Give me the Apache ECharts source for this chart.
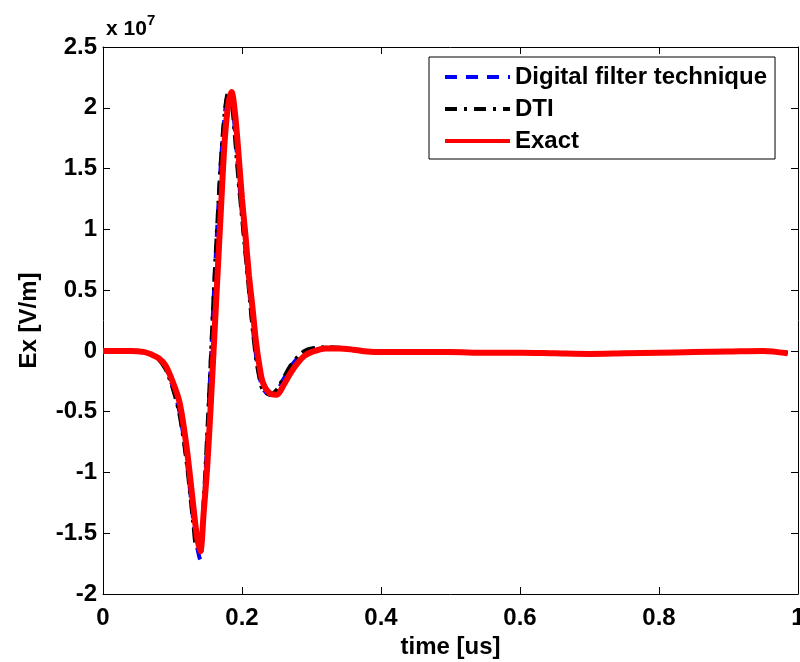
<!DOCTYPE html>
<html>
<head>
<meta charset="utf-8">
<script src="https://cdn.jsdelivr.net/npm/echarts@6/dist/echarts.min.js"></script>
<style>html,body{margin:0;padding:0;background:#fff;}#c{width:800px;height:662px;}</style>
</head>
<body>
<div id="c"></div>
<script>
// time axis in microseconds
const timeUs = [0, 0.02, 0.04, 0.06, 0.07, 0.08, 0.09, 0.1, 0.11, 0.12, 0.13, 0.135, 0.14, 0.145, 0.15, 0.155, 0.16, 0.165, 0.17, 0.175, 0.18, 0.185, 0.19, 0.195, 0.2, 0.205, 0.21, 0.215, 0.22, 0.225, 0.23, 0.24, 0.25, 0.26, 0.27, 0.28, 0.29, 0.3, 0.32, 0.34, 0.36, 0.38, 0.4, 0.45, 0.5, 0.55, 0.6, 0.65, 0.7, 0.75, 0.8, 0.85, 0.9, 0.95, 0.985];
// Ex in units of 1e7 V/m
const exactValues = [0, 0, 0, -0.01, -0.03, -0.06, -0.12, -0.25, -0.42, -0.78, -1.28, -1.52, -1.65, -1.32, -0.95, -0.45, 0.1, 0.65, 1.2, 1.72, 2.02, 2.13, 1.95, 1.62, 1.25, 0.95, 0.62, 0.36, 0.08, -0.12, -0.26, -0.35, -0.36, -0.28, -0.18, -0.1, -0.04, -0.01, 0.02, 0.02, 0.01, -0.005, -0.01, -0.01, -0.01, -0.015, -0.015, -0.02, -0.025, -0.02, -0.015, -0.01, -0.005, 0, -0.02];
const dtiValues = [0, 0, 0, -0.01, -0.03, -0.07, -0.15, -0.3, -0.52, -0.9, -1.42, -1.62, -1.62, -1.22, -0.68, -0.08, 0.55, 1.1, 1.6, 1.95, 2.12, 2.05, 1.75, 1.4, 1.1, 0.8, 0.5, 0.2, -0.05, -0.22, -0.32, -0.36, -0.32, -0.22, -0.12, -0.05, 0, 0.02, 0.03, 0.025, 0.01, -0.005, -0.01, -0.01, -0.01, -0.015, -0.015, -0.02, -0.025, -0.02, -0.015, -0.01, -0.005, 0, -0.02];
const dfValues = [0, 0, 0, -0.01, -0.03, -0.07, -0.14, -0.29, -0.5, -0.88, -1.4, -1.6, -1.72, -1.28, -0.72, -0.1, 0.52, 1.08, 1.58, 1.93, 2.1, 2.08, 1.8, 1.45, 1.12, 0.82, 0.52, 0.22, -0.03, -0.2, -0.31, -0.36, -0.33, -0.23, -0.13, -0.06, -0.01, 0.015, 0.025, 0.02, 0.01, -0.005, -0.01, -0.01, -0.01, -0.015, -0.015, -0.02, -0.025, -0.02, -0.015, -0.01, -0.005, 0, -0.02];
const seriesNames = ['Digital filter technique', 'DTI', 'Exact'];
const seriesColors = ['#0000ff', '#000000', '#ff0000'];
const xRange = [0, 1, 0.2];
const yRange = [-2, 2.5, 0.5];

const pair = vals => timeUs.map((t, i) => [t, vals[i]]);
const FONT = '"Liberation Sans", Arial, sans-serif';
const lbl = {fontFamily: FONT, fontWeight: 'bold', fontSize: 24, color: '#000'};
const axLine = {show: true, onZero: false, lineStyle: {color: '#000', width: 1}};
const tick = {show: true, inside: true, length: 7, lineStyle: {color: '#000', width: 1}};
const styles = [
  {color: seriesColors[0], width: 4, type: [12, 9]},
  {color: seriesColors[1], width: 4, type: [14, 6, 3, 6]},
  {color: seriesColors[2], width: 6, type: 'solid'}
];
const legendStyles = [
  {color: seriesColors[0], width: 4, type: [12, 9]},
  {color: seriesColors[1], width: 4, type: [12, 7, 3, 7]},
  {color: seriesColors[2], width: 4, type: 'solid'}
];
const seriesVals = [dfValues, dtiValues, exactValues];

const chart = echarts.init(document.getElementById('c'), null, {renderer: 'canvas'});
chart.setOption({
  animation: false,
  backgroundColor: '#fff',
  grid: {left: 103, right: 2, top: 47, bottom: 68, containLabel: false, outerBoundsMode: 'none'},
  graphic: [
    {type: 'text', left: 106, top: 19, style: {text: 'x 10', font: 'bold 21px "Liberation Sans", Arial, sans-serif', fill: '#000'}},
    {type: 'text', left: 147, top: 13, style: {text: '7', font: 'bold 15px "Liberation Sans", Arial, sans-serif', fill: '#000'}}
  ],
  legend: {
    orient: 'vertical', left: 429, top: 57,
    padding: [8, 8, 6, 14],
    itemGap: 8, itemWidth: 65, itemHeight: 14, itemTextGap: 7,
    borderColor: '#000', borderWidth: 1, backgroundColor: '#fff',
    itemStyle: {opacity: 0},
    textStyle: {fontFamily: FONT, fontWeight: 'bold', fontSize: 24, color: '#000'},
    data: seriesNames.map((n, i) => ({name: n, lineStyle: legendStyles[i], itemStyle: {opacity: 0}}))
  },
  xAxis: [
    {type: 'value', min: xRange[0], max: xRange[1], interval: xRange[2], position: 'bottom',
     name: 'time [us]', nameLocation: 'middle', nameGap: 40, nameTextStyle: lbl,
     axisLine: axLine, axisTick: tick, splitLine: {show: false},
     axisLabel: Object.assign({margin: 12, formatter: v => String(+v.toFixed(1))}, lbl)},
    {type: 'value', min: xRange[0], max: xRange[1], interval: xRange[2], position: 'top',
     axisLine: axLine, axisTick: tick, splitLine: {show: false}, axisLabel: {show: false}}
  ],
  yAxis: [
    {type: 'value', min: yRange[0], max: yRange[1], interval: yRange[2], position: 'left',
     name: 'Ex [V/m]', nameLocation: 'middle', nameGap: 62, nameTextStyle: lbl,
     axisLine: axLine, axisTick: tick, splitLine: {show: false},
     axisLabel: Object.assign({margin: 6, formatter: v => String(+v.toFixed(1))}, lbl)},
    {type: 'value', min: yRange[0], max: yRange[1], interval: yRange[2], position: 'right',
     axisLine: axLine, axisTick: tick, splitLine: {show: false}, axisLabel: {show: false}}
  ],
  series: seriesNames.map((n, i) => ({
    name: n, type: 'line', data: pair(seriesVals[i]), showSymbol: false, symbol: 'none', smooth: 0.3,
    itemStyle: {color: seriesColors[i]}, lineStyle: styles[i], z: 2 + i
  }))
});
</script>
</body>
</html>
